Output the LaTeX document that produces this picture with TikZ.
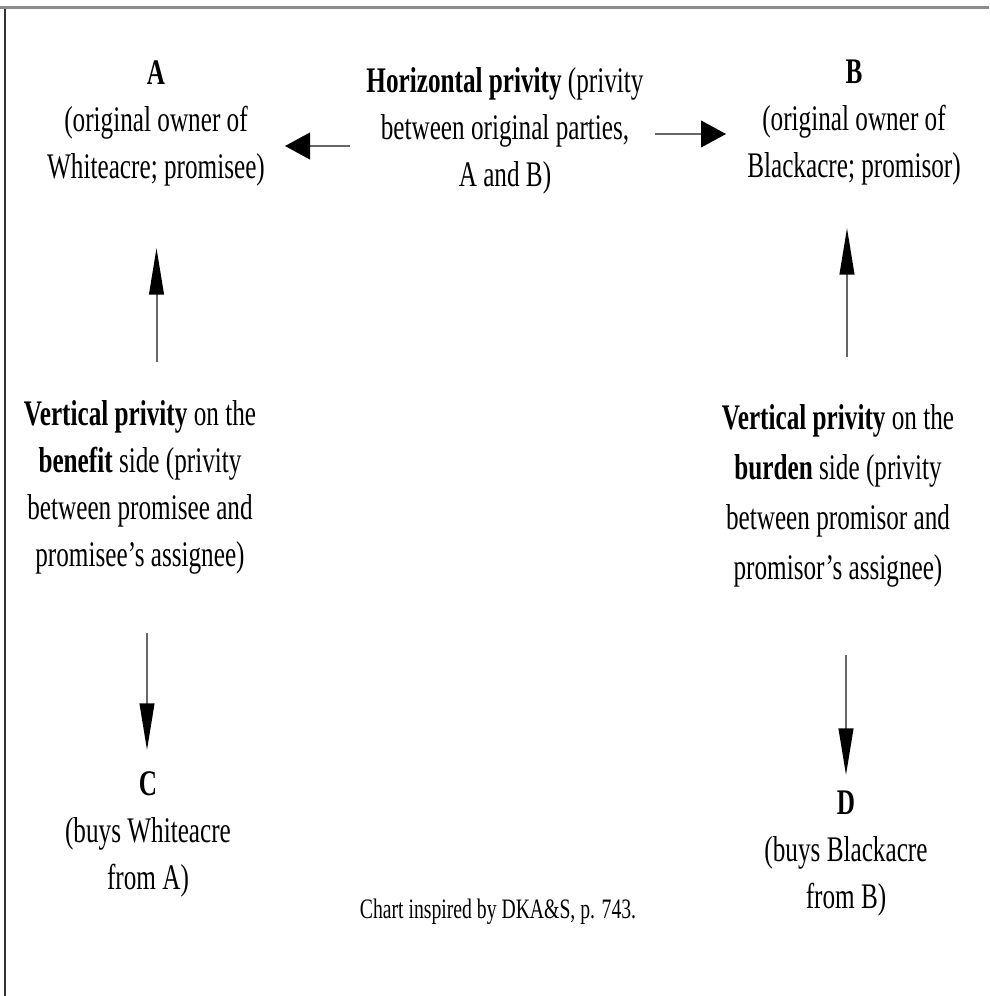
\documentclass[tikz,border=0pt]{standalone}
\usepackage{fontspec}
\setmainfont{Liberation Serif}[FakeStretch=0.70]
\usetikzlibrary{arrows.meta}
\definecolor{linegray}{HTML}{666666}
\definecolor{framegray}{HTML}{8C8C8C}
\definecolor{frameleft}{HTML}{333333}
\begin{document}
\begin{tikzpicture}[x=0.75pt,y=-0.75pt,
  txt/.style={align=center,font=\fontsize{27}{35.25}\selectfont,inner sep=0pt},
  widetxt/.style={align=center,font=\fontsize{27}{37.5}\selectfont,inner sep=0pt},
  smalltxt/.style={align=center,font=\fontsize{21.1}{24}\selectfont,inner sep=0pt},
  harrow/.style={draw=linegray,line width=1.5pt,-{Triangle[color=black,length=18.75pt,width=20pt]}},
  varrow/.style={draw=linegray,line width=1.5pt,-{Triangle[color=black,length=35pt,width=11pt]}}]
\useasboundingbox (0,0) rectangle (989,996);
\fill[white] (0,0) rectangle (989,996);
\draw[framegray,line width=2.25pt] (0,7) -- (989,7);
\draw[frameleft,line width=1.1pt] (5,8.5) -- (5,996);

\node[txt] (A) at (156,123) {\textbf{A}\\(original owner of\\Whiteacre; promisee)};
\node[txt] (H) at (505,131) {\textbf{Horizontal privity} (privity\\between original parties,\\A and B)};
\node[txt] (B) at (854,123) {\textbf{B}\\(original owner of\\Blackacre; promisor)};
\node[txt] (VA) at (140,487) {\textbf{Vertical privity} on the\\\textbf{benefit} side (privity\\between promisee and\\promisee’s assignee)};
\node[widetxt] (VB) at (838,496) {\textbf{Vertical privity} on the\\\textbf{burden} side (privity\\between promisor and\\promisor’s assignee)};
\node[txt] (C) at (148,834) {\textbf{C}\\(buys Whiteacre\\from A)};
\node[txt] (D) at (846,854) {\textbf{D}\\(buys Blackacre\\from B)};
\node[smalltxt] (note) at (498,912) {Chart inspired by DKA\&S, p. 743.};

\coordinate (h1s) at (350,146);
\coordinate (h1e) at (285,146);
\coordinate (h2s) at (655,134);
\coordinate (h2e) at (726,134);
\coordinate (v1s) at (156.5,362);
\coordinate (v1e) at (156.5,248);
\coordinate (v2s) at (147,633);
\coordinate (v2e) at (147,750);
\coordinate (v3s) at (846,655);
\coordinate (v3e) at (846,775);
\coordinate (v4s) at (847,357);
\coordinate (v4e) at (847,228);

\draw[harrow] (h1s) -- (h1e);
\draw[harrow] (h2s) -- (h2e);
\draw[varrow] (v1s) -- (v1e);
\draw[varrow] (v2s) -- (v2e);
\draw[varrow] (v3s) -- (v3e);
\draw[varrow] (v4s) -- (v4e);
\end{tikzpicture}
\end{document}
